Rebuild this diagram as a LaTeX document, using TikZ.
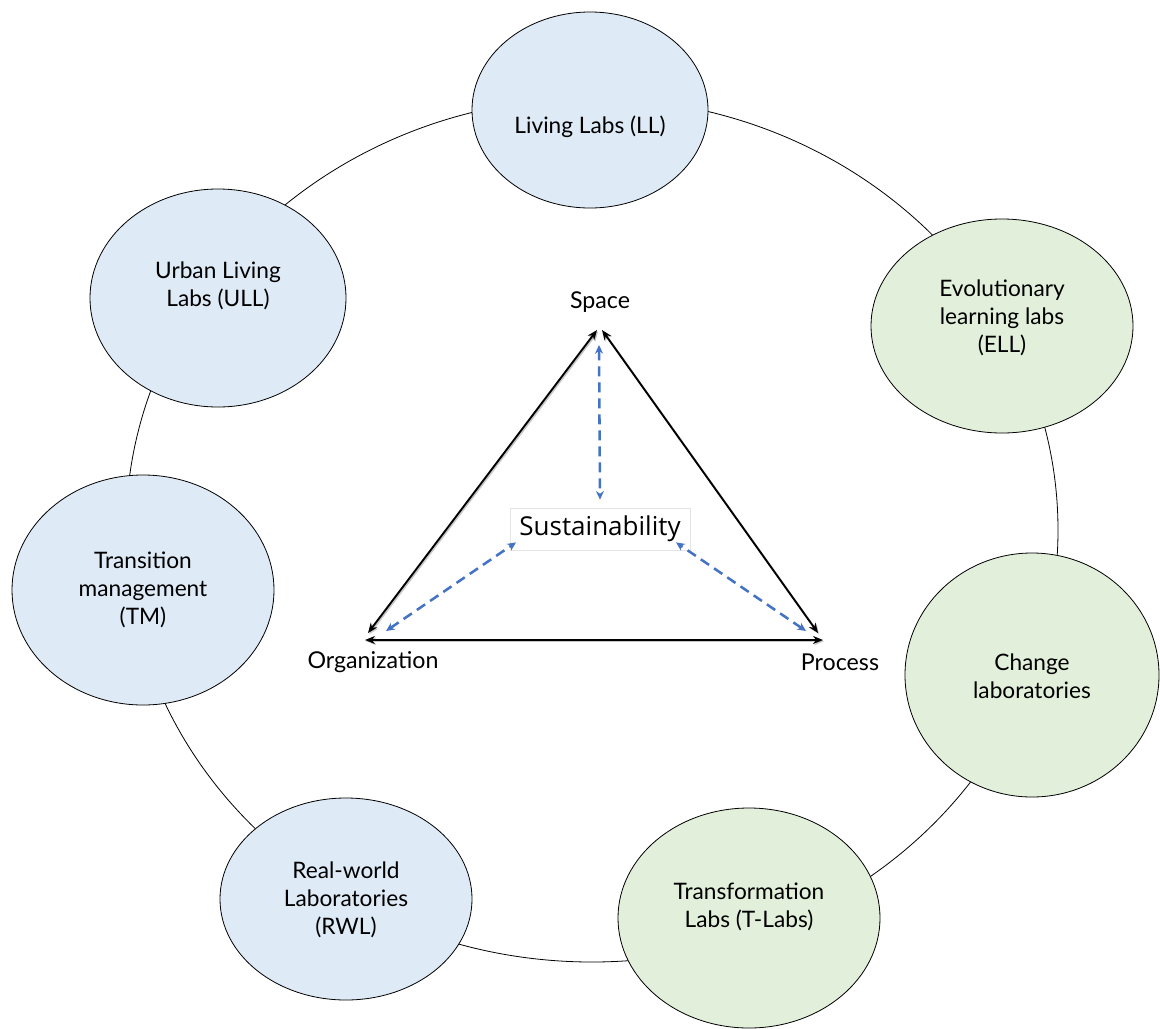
\documentclass[tikz,border=0pt]{standalone}
\usepackage{fontspec}
\setmainfont{Lato}
\newfontfamily\boxfont{Open Sans}
\usetikzlibrary{shapes.geometric,arrows.meta}

\definecolor{labblue}{RGB}{222,234,246}
\definecolor{labgreen}{RGB}{226,239,218}
\definecolor{dashblue}{RGB}{68,114,196}
\definecolor{boxgray}{RGB}{228,228,228}

\tikzset{
	labshape/.style={ellipse, draw=black, line width=0.6pt, inner sep=0pt},
	bluelab/.style={labshape, fill=labblue},
	greenlab/.style={labshape, fill=labgreen},
	labtext/.style={align=center, font=\fontsize{17}{20.8}\selectfont, inner sep=0.75pt},
	cornertext/.style={font=\fontsize{17.4}{20.8}\selectfont, inner sep=0.75pt},
	axisarr/.style={{Stealth[length=7.5pt,width=6pt]}-{Stealth[length=7.5pt,width=6pt]}, line width=1.4pt,
		preaction={draw=black!22, line width=1.4pt, transform canvas={shift={(0.9pt,-0.9pt)}}}},
	linkarr/.style={{Stealth[length=6.5pt,width=6pt]}-{Stealth[length=6.5pt,width=6pt]}, dashblue, line width=1.9pt, dash pattern=on 7.5pt off 4.5pt}
}

\begin{document}
\begin{tikzpicture}[x=0.75pt,y=0.75pt,yscale=-1,xscale=1]
		\useasboundingbox (0,0) rectangle (1160,1028);
		
		%Shape: Ellipse (outer ring)
		\draw [line width=0.6pt] (592,530) ellipse [x radius=466, y radius=432];
		
		%Shape: Ellipse [lab nodes]
		\node [bluelab, minimum width=177pt, minimum height=147pt] (ll) at (590,110) {};
		\node [greenlab, minimum width=196.5pt, minimum height=160.5pt] (ell) at (1002,326) {};
		\node [greenlab, minimum width=190.5pt, minimum height=183pt] (chl) at (1032,675) {};
		\node [greenlab, minimum width=196.5pt, minimum height=165pt] (tlabs) at (749,918) {};
		\node [bluelab, minimum width=189pt, minimum height=151.5pt] (rwl) at (346,899) {};
		\node [bluelab, minimum width=196.5pt, minimum height=172.5pt] (tm) at (143,590) {};
		\node [bluelab, minimum width=192pt, minimum height=163.5pt] (ull) at (218,298) {};
		
		% Text Node
		\node [labtext] (lltext) at (590,127) {Living Labs (LL)};
		% Text Node
		\node [labtext] (elltext) at (1002,318) {Evolutionary\\learning labs\\(ELL)};
		% Text Node
		\node [labtext] (chltext) at (1032,676) {Change\\laboratories};
		% Text Node
		\node [labtext] (tlabstext) at (749,907) {Transformation\\Labs (T-Labs)};
		% Text Node
		\node [labtext] (rwltext) at (346,900) {Real-world\\Laboratories\\(RWL)};
		% Text Node
		\node [labtext] (tmtext) at (143,590) {Transition\\management\\(TM)};
		% Text Node
		\node [labtext] (ulltext) at (218,286) {Urban Living\\Labs (ULL)};
		
		% Text Node
		\node [cornertext] (space) at (600,302) {Space};
		% Text Node
		\node [cornertext] (org) at (373,662) {Organization};
		% Text Node
		\node [cornertext] (proc) at (840,662) {Process};
		
		% Text Node
		\node [draw=boxgray, fill=white, line width=0.6pt, minimum width=135pt, minimum height=31.5pt,
			font=\boxfont\fontsize{19.5}{22}\selectfont] (sus) at (600,529) {Sustainability};
		
		%Triangle corners
		\coordinate (topL) at (597,330);
		\coordinate (topR) at (602,330);
		\coordinate (orgD) at (368,633);
		\coordinate (orgB) at (365,640);
		\coordinate (procD) at (818,633);
		\coordinate (procB) at (823,640);
		
		%Straight Lines [triangle]
		\draw [axisarr] (orgD) -- (topL);
		\draw [axisarr] (topR) -- (procD);
		\draw [axisarr] (orgB) -- (procB);
		
		%Straight Lines [dashed links]
		\coordinate (spaceIn) at (599,345);
		\coordinate (orgIn) at (386,631);
		\coordinate (procIn) at (806,631);
		\draw [linkarr] (spaceIn) -- ([yshift=-6pt]sus.north);
		\draw [linkarr] (orgIn) -- ([xshift=-63pt,yshift=-6pt]sus.south);
		\draw [linkarr] (procIn) -- ([xshift=57pt,yshift=-6pt]sus.south);
		
\end{tikzpicture}
\end{document}
